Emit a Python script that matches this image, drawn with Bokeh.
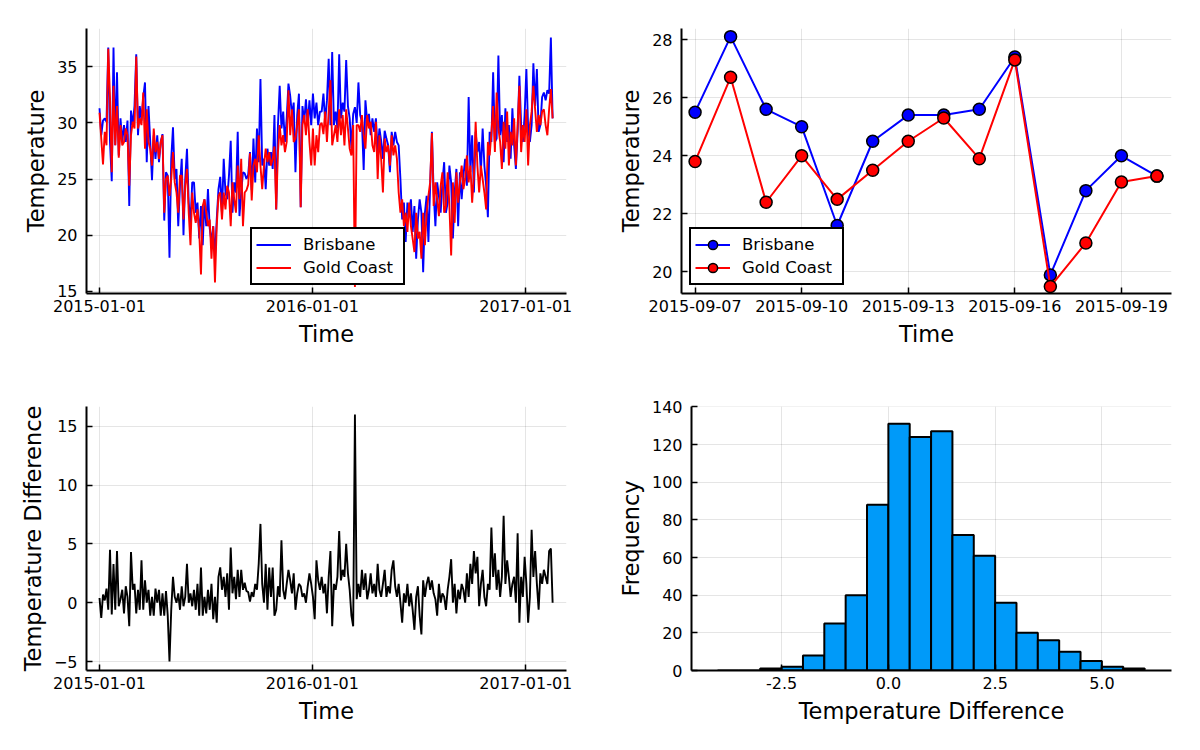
import pandas as pd
from bokeh.plotting import figure
from bokeh.layouts import column, row
from bokeh.models import (Range1d, FixedTicker, DatetimeTickFormatter,
                          PrintfTickFormatter, Legend, LegendItem)
from bokeh.embed import file_html
from bokeh.resources import INLINE

FONT = "DejaVu Sans"

# ---------------- data ----------------
series_start = "2015-01-01"
series_step = "3D"

brisbane = [
    31.3, 28.9, 30.2, 30.4, 30.1, 36.7, 28.3, 24.8, 36.7, 28.0,
    34.5, 27.1, 30.4, 28.3, 29.8, 28.3, 30.2, 22.6, 31.1, 29.8,
    31.5, 36.1, 28.9, 31.5, 30.2, 32.3, 33.6, 26.5, 31.5, 28.3,
    24.9, 28.9, 26.8, 28.9, 26.5, 28.3, 29.0, 21.3, 25.6, 25.3,
    18.0, 26.8, 29.6, 25.0, 25.9, 20.8, 24.4, 26.8, 20.0, 25.0,
    27.7, 22.9, 21.1, 24.7, 24.7, 22.0, 22.9, 19.7, 22.6, 19.1,
    23.2, 20.8, 24.1, 20.6, 19.4, 20.8, 17.9, 21.4, 24.1, 25.2,
    22.0, 26.8, 23.8, 23.2, 25.3, 28.4, 22.0, 24.7, 23.8, 29.2,
    21.7, 23.8, 25.6, 25.5, 25.0, 25.4, 27.4, 24.0, 28.6, 24.7,
    29.5, 26.5, 33.9, 26.2, 26.8, 24.1, 27.7, 26.2, 27.4, 25.9,
    30.7, 22.3, 29.8, 33.3, 29.5, 31.0, 28.3, 30.4, 33.5, 32.4,
    30.7, 31.8, 25.6, 30.7, 32.6, 22.5, 31.5, 30.1, 32.1, 29.8,
    32.0, 29.8, 32.6, 30.4, 31.8, 29.8, 31.0, 31.0, 32.6, 30.1,
    32.0, 35.7, 29.8, 36.3, 29.8, 31.0, 29.5, 36.1, 30.4, 31.8,
    31.0, 35.6, 31.5, 30.4, 27.7, 30.8, 31.4, 30.0, 33.6, 30.7,
    30.1, 25.8, 32.0, 30.1, 30.8, 28.9, 30.4, 29.2, 30.4, 27.4,
    29.5, 28.4, 26.8, 29.3, 28.6, 28.0, 25.6, 29.2, 28.0, 29.2,
    28.3, 28.0, 25.0, 21.4, 22.9, 19.4, 22.9, 22.0, 23.2, 20.3,
    22.6, 17.9, 21.4, 23.2, 22.0, 16.7, 22.0, 23.5, 19.4, 24.4,
    29.2, 23.8, 20.8, 24.7, 23.5, 22.0, 24.7, 26.5, 22.0, 22.9,
    26.2, 24.7, 19.7, 23.8, 25.9, 20.8, 25.6, 23.2, 25.3, 26.8,
    24.4, 32.3, 25.6, 28.9, 23.8, 29.2, 27.4, 28.3, 25.6, 29.5,
    26.2, 24.4, 21.6, 29.2, 28.3, 34.5, 28.3, 28.6, 36.0, 28.9,
    30.7, 26.5, 31.3, 28.3, 29.8, 26.8, 31.3, 28.0, 25.9, 29.2,
    34.2, 29.8, 28.3, 30.7, 34.8, 29.5, 28.3, 29.8, 35.3, 31.5,
    34.8, 29.2, 29.8, 32.3, 32.7, 32.0, 32.9, 32.6, 37.6, 30.4,
]

gold_coast = [
    30.9, 28.6, 26.3, 29.2, 28.0, 36.6, 32.3, 25.6, 33.3, 28.0,
    31.5, 26.9, 29.8, 28.0, 28.3, 29.5, 28.9, 24.4, 28.9, 30.1,
    29.5, 35.9, 29.5, 30.4, 29.8, 32.7, 27.7, 31.2, 28.3, 27.7,
    26.2, 29.5, 27.4, 28.3, 26.8, 28.3, 28.9, 22.0, 25.0, 25.3,
    23.5, 25.0, 27.4, 24.7, 23.8, 22.0, 25.3, 25.3, 21.4, 24.4,
    25.9, 22.0, 19.1, 23.8, 22.0, 21.1, 22.3, 20.3, 16.5, 22.6,
    23.2, 22.0, 20.8, 21.4, 17.9, 20.8, 15.8, 20.8, 23.5, 23.8,
    21.4, 23.8, 22.3, 24.4, 23.8, 20.8, 24.7, 23.2, 22.0, 26.2,
    23.2, 26.8, 20.8, 23.8, 24.0, 24.5, 27.3, 23.1, 26.2, 26.8,
    25.6, 28.9, 26.2, 24.1, 26.2, 27.7, 26.5, 27.4, 26.2, 26.8,
    27.9, 22.3, 27.4, 29.8, 28.0, 28.9, 27.4, 28.3, 32.9, 28.9,
    31.2, 28.3, 28.6, 29.8, 31.2, 22.5, 29.8, 30.7, 28.9, 31.2,
    28.3, 26.2, 29.5, 26.2, 28.9, 27.4, 29.8, 30.0, 29.0, 31.0,
    28.3, 31.0, 33.8, 28.0, 28.9, 29.8, 28.3, 31.2, 28.9, 30.7,
    28.0, 31.2, 29.5, 27.7, 27.1, 29.8, 15.4, 29.8, 29.8, 29.2,
    30.7, 28.9, 27.7, 30.7, 29.5, 30.1, 28.0, 27.4, 30.1, 25.0,
    28.9, 26.8, 23.8, 28.6, 27.4, 28.0, 26.2, 28.9, 27.1, 28.0,
    26.8, 23.8, 22.0, 23.2, 20.8, 22.0, 20.3, 22.9, 20.8, 19.7,
    18.5, 22.0, 19.7, 20.3, 17.9, 22.0, 19.1, 22.0, 23.5, 24.7,
    29.1, 22.6, 24.7, 23.2, 21.7, 24.4, 25.6, 22.0, 22.6, 25.6,
    22.6, 18.2, 24.7, 21.1, 25.6, 22.9, 24.7, 26.2, 24.1, 25.0,
    27.1, 24.7, 26.2, 22.9, 25.3, 30.1, 26.2, 23.8, 26.2, 25.0,
    23.8, 22.3, 28.3, 27.1, 29.1, 31.5, 27.4, 32.7, 29.5, 28.3,
    25.9, 30.1, 27.7, 31.0, 26.2, 29.2, 28.0, 30.4, 26.2, 29.8,
    33.3, 27.4, 29.8, 28.3, 31.2, 26.2, 29.8, 31.0, 33.3, 31.2,
    29.2, 30.7, 29.8, 31.0, 31.2, 29.8, 28.9, 31.2, 33.0, 30.4,
]

temp_difference = [
    0.4, -1.3, 0.7, 0.2, 1.2, -0.6, 4.5, -1.0, 3.3, -0.6,
    4.4, -0.3, 0.3, 1.1, -0.9, 1.4, 0.5, -2.0, 4.3, 1.1,
    1.6, -0.9, 1.1, -0.6, 3.6, -0.6, 1.9, 0.0, 1.1, -1.1,
    0.5, -1.1, 1.2, 0.0, 1.1, -1.1, 0.8, -1.1, 1.0, -1.1,
    -5.0, -0.6, 2.2, 0.5, 0.0, 0.8, -0.6, 1.4, -0.3, 0.5,
    3.3, 0.0, 0.8, -0.3, 1.1, -0.6, 1.6, -1.1, 3.0, -1.1,
    0.5, -0.9, 1.1, -0.6, 1.6, -1.4, 0.5, -1.7, 2.2, 3.0,
    1.1, 2.2, 0.5, 2.5, -0.6, 4.7, 0.8, 2.2, 0.3, 2.8,
    0.5, 2.8, 1.1, 1.7, 1.0, 0.9, 0.1, 0.9, 0.5, 1.6,
    1.1, 3.3, 6.7, 1.6, 0.0, 3.3, -0.6, 3.0, 0.5, 3.0,
    -1.1, -0.6, 1.4, 0.5, 5.3, 1.1, 0.3, 1.6, 2.8, 1.9,
    0.8, 2.5, -0.6, 0.8, 1.6, 1.4, 0.5, 0.8, 0.0, 1.4,
    2.5, 1.6, 0.5, -1.4, 3.6, 1.9, 1.1, 2.2, 0.8, 1.6,
    -0.9, 2.2, 4.4, -2.0, 1.6, 1.1, 2.2, 6.1, 1.9, 2.8,
    2.2, 5.0, 2.5, 1.1, -1.1, -2.0, 16.0, 0.3, 1.6, 0.5,
    2.8, 1.1, 2.5, 0.3, 1.1, 2.5, 0.8, 1.6, 0.5, 3.3,
    1.1, 0.5, 1.6, 2.8, 0.5, 1.4, 0.8, 2.8, 3.6, 1.4,
    0.5, 1.6, 0.0, -1.7, 0.8, 0.0, 1.6, -0.3, 0.8, -0.6,
    -2.3, 0.5, 1.4, -1.1, -2.7, 1.9, 0.5, 1.6, 2.2, 1.1,
    1.9, 0.8, 0.3, -1.1, 1.6, 0.0, 0.8, 0.5, -0.6, 1.1,
    2.2, 3.7, 0.0, 1.6, -0.9, 1.1, 0.3, 1.6, 1.1, 0.0,
    2.5, 0.5, 3.3, 1.6, 4.4, 2.5, 3.9, -0.3, 1.6, 2.8,
    0.5, -0.3, 1.6, 1.1, 6.4, 2.2, 4.2, 1.1, 2.8, 0.5,
    2.2, 7.4, 1.6, 3.6, 2.2, 0.5, 1.6, 2.2, 0.0, 5.9,
    -1.7, 2.2, 0.5, 3.9, 1.6, -1.7, 0.5, 6.2, 2.2, 4.4,
    1.6, -0.6, 2.5, 1.6, 2.8, 2.2, 1.6, 4.4, 4.6, 0.0,
]

sep_dates = ["2015-09-07", "2015-09-08", "2015-09-09", "2015-09-10", "2015-09-11",
             "2015-09-12", "2015-09-13", "2015-09-14", "2015-09-15", "2015-09-16",
             "2015-09-17", "2015-09-18", "2015-09-19", "2015-09-20"]
sep_brisbane = [25.5, 28.1, 25.6, 25.0, 21.6, 24.5, 25.4, 25.4, 25.6, 27.4, 19.9, 22.8, 24.0, 23.3]
sep_gold_coast = [23.8, 26.7, 22.4, 24.0, 22.5, 23.5, 24.5, 25.3, 23.9, 27.3, 19.5, 21.0, 23.1, 23.3]

hist_edges = [-4.0, -3.5, -3.0, -2.5, -2.0, -1.5, -1.0, -0.5, 0.0, 0.5, 1.0,
              1.5, 2.0, 2.5, 3.0, 3.5, 4.0, 4.5, 5.0, 5.5, 6.0]
hist_counts = [0, 0, 1, 2, 8, 25, 40, 88, 131, 124, 127, 72, 61, 36, 20, 16, 10, 5, 2, 1]

year_ticks = ["2015-01-01", "2016-01-01", "2017-01-01"]
sep_ticks = ["2015-09-07", "2015-09-10", "2015-09-13", "2015-09-16", "2015-09-19"]

# ---------------- helpers ----------------
def ms(s):
    return pd.Timestamp(s).value / 1e6

DAY = 86400000.0

def dates_for(values):
    return pd.date_range(series_start, periods=len(values), freq=series_step)

DATE_FMT = DatetimeTickFormatter(
    microseconds="%Y-%m-%d", milliseconds="%Y-%m-%d", seconds="%Y-%m-%d",
    minsec="%Y-%m-%d", minutes="%Y-%m-%d", hourmin="%Y-%m-%d", hours="%Y-%m-%d",
    days="%Y-%m-%d", months="%Y-%m-%d", years="%Y-%m-%d")


def make_fig(w, h, bl, br, bt, bb, xr, yr, xtype="linear"):
    p = figure(width=w, height=h, x_range=xr, y_range=yr, x_axis_type=xtype,
               output_backend="svg", toolbar_location=None, tools="", title=None,
               min_border_left=bl, min_border_right=br,
               min_border_top=bt, min_border_bottom=bb)
    p.outline_line_color = None
    p.background_fill_color = "white"
    p.border_fill_color = "white"
    for ax in (p.xaxis[0], p.yaxis[0]):
        ax.axis_line_width = 2
        ax.axis_line_color = "black"
        ax.major_tick_in = 6
        ax.major_tick_out = 0
        ax.major_tick_line_width = 1.5
        ax.major_tick_line_color = "black"
        ax.minor_tick_line_color = None
        ax.major_label_text_font = FONT
        ax.major_label_text_font_size = "16px"
        ax.major_label_text_color = "black"
        ax.axis_label_text_font = FONT
        ax.axis_label_text_font_size = "22.5px"
        ax.axis_label_text_font_style = "normal"
        ax.axis_label_text_color = "black"
    p.xaxis.major_label_standoff = 6
    p.yaxis.major_label_standoff = 9
    p.xaxis.axis_label_standoff = 6
    p.yaxis.axis_label_standoff = 5
    p.grid.grid_line_color = "black"
    p.grid.grid_line_alpha = 0.1
    p.grid.grid_line_width = 1
    return p


def style_legend(leg, loc):
    leg.location = loc
    leg.margin = 0
    leg.padding = 4
    leg.spacing = 0
    leg.border_line_color = "black"
    leg.border_line_alpha = 1.0
    leg.border_line_width = 2
    leg.background_fill_color = "white"
    leg.background_fill_alpha = 1.0
    leg.label_text_font = FONT
    leg.label_text_font_size = "16.5px"
    leg.label_text_color = "black"
    leg.glyph_width = 35
    leg.glyph_height = 23
    leg.label_height = 23
    leg.label_standoff = 12
    leg.label_width = 96


# ---------------- top-left: full series ----------------
t0 = ms(series_start)
p1 = make_fig(586, 370, 86, 20, 28, 77,
              Range1d(t0 - 22.3 * DAY, t0 + 800.8 * DAY), Range1d(14.81, 38.4), "datetime")
r_b = p1.line(dates_for(brisbane), brisbane, line_color="blue", line_width=1.9)
r_g = p1.line(dates_for(gold_coast), gold_coast, line_color="red", line_width=1.9)
p1.xaxis.ticker = FixedTicker(ticks=[ms(t) for t in year_ticks])
p1.xaxis.formatter = DATE_FMT
p1.yaxis.ticker = FixedTicker(ticks=[15, 20, 25, 30, 35])
p1.xaxis.axis_label = "Time"
p1.yaxis.axis_label = "Temperature"
leg1 = Legend(items=[LegendItem(label="Brisbane", renderers=[r_b]),
                     LegendItem(label="Gold Coast", renderers=[r_g])])
style_legend(leg1, (164, 8))
p1.add_layout(leg1)

# ---------------- top-right: two weeks ----------------
s0 = ms(sep_dates[0])
p2 = make_fig(596, 370, 95, 11, 28, 77,
              Range1d(s0 - 0.382 * DAY, s0 + 13.41 * DAY), Range1d(19.26, 28.38), "datetime")
sd = pd.to_datetime(sep_dates)
l_b = p2.line(sd, sep_brisbane, line_color="blue", line_width=2)
m_b = p2.scatter(sd, sep_brisbane, size=12, fill_color="blue", line_color="black", line_width=1.5)
l_g = p2.line(sd, sep_gold_coast, line_color="red", line_width=2)
m_g = p2.scatter(sd, sep_gold_coast, size=12, fill_color="red", line_color="black", line_width=1.5)
p2.xaxis.ticker = FixedTicker(ticks=[ms(t) for t in sep_ticks])
p2.xaxis.formatter = DATE_FMT
p2.yaxis.ticker = FixedTicker(ticks=[20, 22, 24, 26, 28])
p2.xaxis.axis_label = "Time"
p2.yaxis.axis_label = "Temperature"
leg2 = Legend(items=[LegendItem(label="Brisbane", renderers=[l_b, m_b]),
                     LegendItem(label="Gold Coast", renderers=[l_g, m_g])])
style_legend(leg2, (8, 8))
p2.add_layout(leg2)

# ---------------- bottom-left: difference series ----------------
p3 = make_fig(586, 362, 86, 20, 32, 62,
              Range1d(t0 - 22.3 * DAY, t0 + 800.8 * DAY), Range1d(-5.76, 16.68), "datetime")
p3.line(dates_for(temp_difference), temp_difference, line_color="black", line_width=1.9)
p3.xaxis.ticker = FixedTicker(ticks=[ms(t) for t in year_ticks])
p3.xaxis.formatter = DATE_FMT
p3.yaxis.ticker = FixedTicker(ticks=[-5, 0, 5, 10, 15])
p3.xaxis.axis_label = "Time"
p3.yaxis.axis_label = "Temperature Difference"

# ---------------- bottom-right: histogram ----------------
p4 = make_fig(596, 362, 105, 11, 36, 62, Range1d(-4.61, 6.63), Range1d(0, 140.2))
p4.quad(left=hist_edges[:-1], right=hist_edges[1:], bottom=0, top=hist_counts,
        fill_color="#009af9", line_color="black", line_width=2)
p4.xaxis.ticker = FixedTicker(ticks=[-2.5, 0.0, 2.5, 5.0])
p4.xaxis.formatter = PrintfTickFormatter(format="%.1f")
p4.yaxis.ticker = FixedTicker(ticks=[0, 20, 40, 60, 80, 100, 120, 140])
p4.xaxis.axis_label = "Temperature Difference"
p4.yaxis.axis_label = "Frequency"

layout = column(row(p1, p2), row(p3, p4))

with open("out.html", "w") as f:
    f.write(file_html(layout, INLINE))
